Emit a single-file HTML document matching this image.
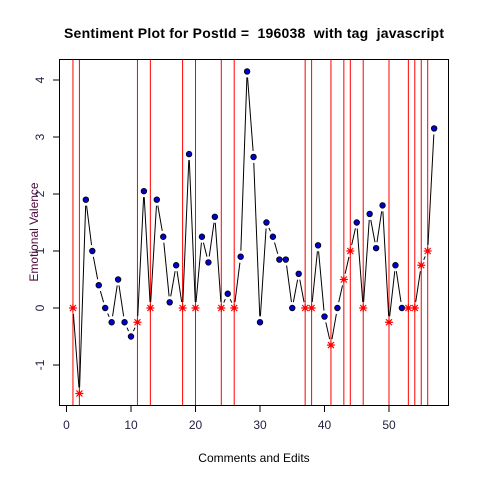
<!DOCTYPE html>
<html><head><meta charset="utf-8"><style>
html,body{margin:0;padding:0;background:#fff;}
svg text{font-family:"Liberation Sans",sans-serif;}
</style></head><body>
<svg id="chart" width="480" height="480" xmlns="http://www.w3.org/2000/svg">
<rect width="480" height="480" fill="#fff"/>
<text x="254" y="38" text-anchor="middle" font-size="14" font-weight="bold" textLength="380" xml:space="preserve" style="white-space:pre">Sentiment Plot for PostId =  196038  with tag  javascript</text>
<text x="254" y="462" text-anchor="middle" font-size="12">Comments and Edits</text>
<text x="0" y="0" transform="translate(38,232) rotate(-90)" text-anchor="middle" font-size="12" fill="#4b0a3a">Emotional Valence</text>
<g id="lines"></g>
<g id="series"></g>
<g id="axes"></g>
<rect x="59.5" y="59.5" width="389" height="346" fill="none" stroke="#000"/>
</svg>
<script>
const values=[0,-1.5,1.9,1.0,0.4,0,-0.25,0.5,-0.25,-0.5,-0.25,2.05,0,1.9,1.25,0.1,0.75,0,2.7,0,1.25,0.8,1.6,0,0.25,0,0.9,4.15,2.65,-0.25,1.5,1.25,0.85,0.85,0,0.6,0,0,1.1,-0.15,-0.65,0,0.5,1.0,1.5,0,1.65,1.05,1.8,-0.25,0.75,0,0,0,0.75,1.0,3.15];
const editIdx=[1,2,11,13,18,20,24,26,37,38,41,43,44,46,50,53,54,55,56];
const xTicks=[0,10,20,30,40,50];
const yTicks=[-1,0,1,2,3,4];
const NS="http://www.w3.org/2000/svg";
const X=i=>66.5+6.45*i, Y=v=>308-57*v;
function mk(t,a,p){const e=document.createElementNS(NS,t);for(const k in a)e.setAttribute(k,a[k]);p.appendChild(e);return e;}
const L=document.getElementById('lines'),S=document.getElementById('series'),A=document.getElementById('axes');
editIdx.forEach(i=>{const e=mk('line',{x1:X(i),x2:X(i),y1:59,y2:406,stroke:'#f00','stroke-width':1},L);

});
for(let k=0;k<values.length-1;k++){const x1=X(k+1),y1=Y(values[k]),x2=X(k+2),y2=Y(values[k+1]);
const dx=x2-x1,dy=y2-y1,d=Math.hypot(dx,dy),g=6;if(d<=2*g)continue;
const e=mk('line',{x1:x1+dx*g/d,y1:y1+dy*g/d,x2:x2-dx*g/d,y2:y2-dy*g/d,stroke:'#000','stroke-width':1},S);

}
values.forEach((v,k)=>{const i=k+1,x=X(i),y=Y(v);
if(editIdx.includes(i)){const g=mk('g',{stroke:'#f00','stroke-width':1.2},S);


mk('line',{x1:x-4,x2:x+4,y1:y,y2:y},g);mk('line',{x1:x,x2:x,y1:y-4,y2:y+4},g);
mk('line',{x1:x-3,x2:x+3,y1:y-3,y2:y+3},g);mk('line',{x1:x-3,x2:x+3,y1:y+3,y2:y-3},g);
mk('circle',{cx:x,cy:y,r:1.8,fill:'#f00',stroke:'none'},g);}
else{const c=mk('circle',{cx:x,cy:y,r:2.8,fill:'#0000cd',stroke:'#000','stroke-width':0.8},S);

}});
xTicks.forEach(t=>{mk('line',{x1:X(t),x2:X(t),y1:406,y2:412,stroke:'#000'},A);
const e=mk('text',{x:X(t),y:429,'text-anchor':'middle','font-size':12,fill:'#222244'},A);e.textContent=t;

});
yTicks.forEach(t=>{mk('line',{x1:53,x2:59,y1:Y(t),y2:Y(t),stroke:'#000'},A);
const e=mk('text',{x:0,y:0,transform:`translate(44,${Y(t)}) rotate(-90)`,'text-anchor':'middle','font-size':12,fill:'#222244'},A);e.textContent=t;

});
</script>
</body></html>
